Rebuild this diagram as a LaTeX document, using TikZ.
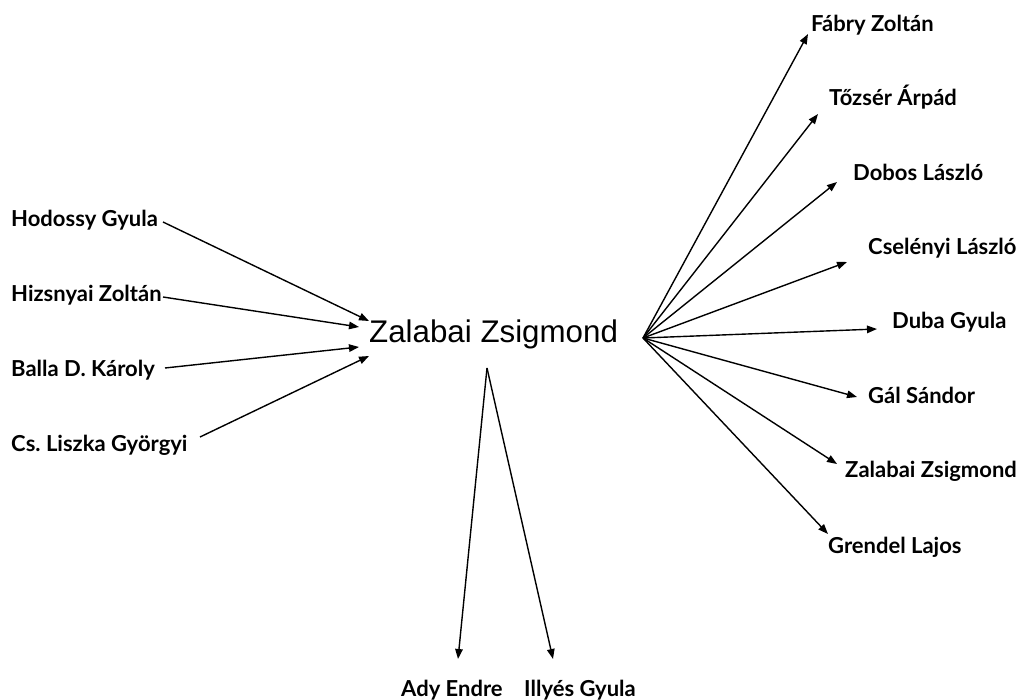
\documentclass[tikz,border=0pt]{standalone}
\usepackage{fontspec}
\setmainfont{Liberation Sans}
\newfontfamily\labelfont{Lato}
\usetikzlibrary{arrows.meta}
\frenchspacing
\begin{document}
\begin{tikzpicture}[x=1pt,y=-1pt,
  personlbl/.style={anchor=base west,inner sep=0pt,font=\labelfont\bfseries\fontsize{22}{22}\selectfont},
  centrelbl/.style={anchor=base west,inner sep=0pt,font=\fontsize{31.3}{31.3}\selectfont},
  arr/.style={line width=1.4pt,-{Triangle[length=10pt,width=7.5pt]}}]
\useasboundingbox[fill=white] (0,0) rectangle (1031,700);

% central name
\node[centrelbl] (zz) at (369,343) {Zalabai Zsigmond};

% influences on the left
\node[personlbl] (hod) at (11,227) {Hodossy Gyula};
\node[personlbl] (hiz) at (11,302) {Hizsnyai Zoltán};
\node[personlbl] (bal) at (11,377) {Balla D. Károly};
\node[personlbl] (csl) at (11,451) {Cs. Liszka Györgyi};

% names on the right
\node[personlbl] (fab) at (811,32) {Fábry Zoltán};
\node[personlbl] (toz) at (829,106) {Tőzsér Árpád};
\node[personlbl] (dob) at (853,181) {Dobos László};
\node[personlbl] (cse) at (868,255) {Cselényi László};
\node[personlbl] (dub) at (892,329) {Duba Gyula};
\node[personlbl] (gal) at (868,404) {Gál Sándor};
\node[personlbl] (zal) at (845,478) {Zalabai Zsigmond};
\node[personlbl] (gre) at (828,553) {Grendel Lajos};

% names below
\node[personlbl] (ady) at (401,696) {Ady Endre};
\node[personlbl] (ill) at (524,696) {Illyés Gyula};

% connector ends
\coordinate (hub) at (643,338);
\coordinate (apex) at (487,368);
\coordinate (hod-s) at (163,222);
\coordinate (hiz-s) at (163,297);
\coordinate (bal-s) at (165,368);
\coordinate (csl-s) at (200,437);
\coordinate (hod-t) at (369,321);
\coordinate (hiz-t) at (359,327);
\coordinate (bal-t) at (359,347);
\coordinate (csl-t) at (369,356);
\coordinate (fab-t) at (808,34);
\coordinate (toz-t) at (818,114);
\coordinate (dob-t) at (837,182);
\coordinate (cse-t) at (847,262);
\coordinate (dub-t) at (877,329);
\coordinate (gal-t) at (857,397);
\coordinate (zal-t) at (837,464);
\coordinate (gre-t) at (828,534);
\coordinate (ady-t) at (458,659);
\coordinate (ill-t) at (553,659);

\draw[arr] (hod-s) -- (hod-t);
\draw[arr] (hiz-s) -- (hiz-t);
\draw[arr] (bal-s) -- (bal-t);
\draw[arr] (csl-s) -- (csl-t);

\foreach \t in {fab,toz,dob,cse,dub,gal,zal,gre}
  \draw[arr] (hub) -- (\t-t);

\draw[arr] (apex) -- (ady-t);
\draw[arr] (apex) -- (ill-t);
\end{tikzpicture}
\end{document}
